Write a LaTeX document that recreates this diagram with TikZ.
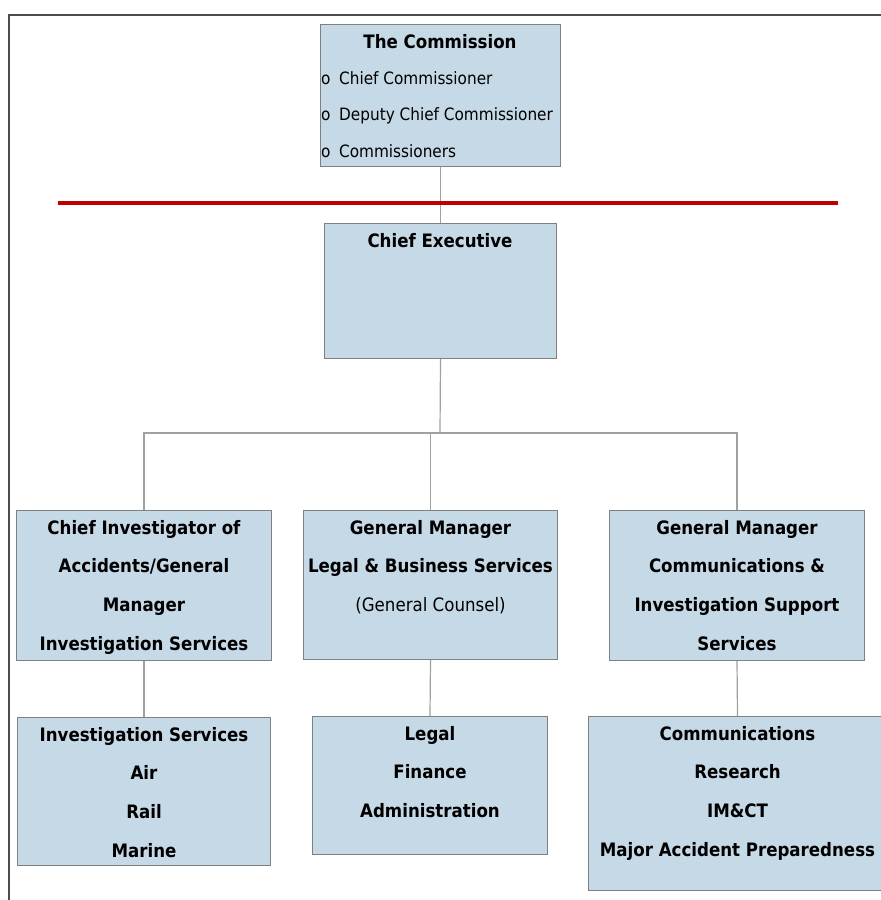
\documentclass[tikz,border=0pt]{standalone}
\usepackage{fontspec}
\setmainfont{DejaVu Sans Condensed}
\usetikzlibrary{positioning}
\definecolor{boxblue}{RGB}{198,217,230}
\definecolor{boxgray}{RGB}{128,128,128}
\definecolor{framegray}{RGB}{77,77,77}
\definecolor{redbar}{RGB}{192,0,0}
\tikzstyle{box}=[draw=boxgray,fill=boxblue,line width=1pt,inner sep=0pt,anchor=north west]
\tikzstyle{boxtext}=[anchor=north,align=center,inner sep=0pt,font=\fontsize{18.5}{38.7}\selectfont\bfseries]
\tikzstyle{link}=[draw=boxgray!75,line width=1.2pt]
\newcommand{\bul}{\makebox[18pt][l]{\fontsize{17}{17}\selectfont o}}

\begin{document}
\begin{tikzpicture}[x=1pt,y=-1pt]
    \useasboundingbox (0,0) rectangle (881,900);
    \draw[framegray,line width=2pt] (9,900) -- (9,15) -- (881,15);
    % top of the tree
    \node[box,minimum width=240pt,minimum height=142pt] (comm) at (320,24) {};
    \node[boxtext] (commtitle) at (440,34) {The Commission};
    \node[anchor=north west,align=left,inner sep=0pt,font=\fontsize{17}{36.5}\selectfont] (commlist) at (321,71)
        {\bul Chief Commissioner\\\bul Deputy Chief Commissioner\\\bul Commissioners};
    \node[box,minimum width=232pt,minimum height=135pt] (ce) at (324,223) {};
    \node[boxtext] (cetitle) at (440,233) {Chief Executive};
    % second row
    \node[box,minimum width=255pt,minimum height=150pt] (cinv) at (16,510) {};
    \node[boxtext] (cinvtext) at (cinv.north) [yshift=-10pt]
        {Chief Investigator of\\Accidents/General\\Manager\\Investigation Services};
    \node[box,minimum width=254pt,minimum height=149pt] (lgm) at (303,510) {};
    \node[boxtext] (lgmtext) at (lgm.north) [yshift=-10pt]
        {General Manager\\Legal \& Business Services\\{\mdseries (General Counsel)}};
    \node[box,minimum width=255pt,minimum height=150pt] (cgm) at (609,510) {};
    \node[boxtext] (cgmtext) at (cgm.north) [yshift=-10pt]
        {General Manager\\Communications \&\\Investigation Support\\Services};
    % third row
    \node[box,minimum width=253pt,minimum height=148pt] (invs) at (17,717) {};
    \node[boxtext] (invstext) at (invs.north) [yshift=-10pt]
        {Investigation Services\\Air\\Rail\\Marine};
    \node[box,minimum width=235pt,minimum height=138pt] (lfa) at (312,716) {};
    \node[boxtext] (lfatext) at (lfa.north) [yshift=-10pt]
        {Legal\\Finance\\Administration};
    \node[box,minimum width=298pt,minimum height=174pt] (comms) at (588,716) {};
    \node[boxtext] (commstext) at (comms.north) [yshift=-10pt]
        {Communications\\Research\\IM\&CT\\Major Accident Preparedness};
    % connectors
    \coordinate (bus) at (440,433);
    \draw[link] (comm.south) -- (ce.north);
    \draw[link] (ce.south) -- (bus);
    \draw[link] (cinv.north) -- (cinv.north |- bus) -- (cgm.north |- bus) -- (cgm.north);
    \draw[link] (lgm.north) -- (lgm.north |- bus);
    \draw[link] (cinv.south) -- (invs.north);
    \draw[link] (lgm.south) -- (lfa.north);
    \draw[link] (cgm.south) -- (comms.north);
    \draw[redbar,line width=4pt] (58,203) -- (838,203);
\end{tikzpicture}
\end{document}
